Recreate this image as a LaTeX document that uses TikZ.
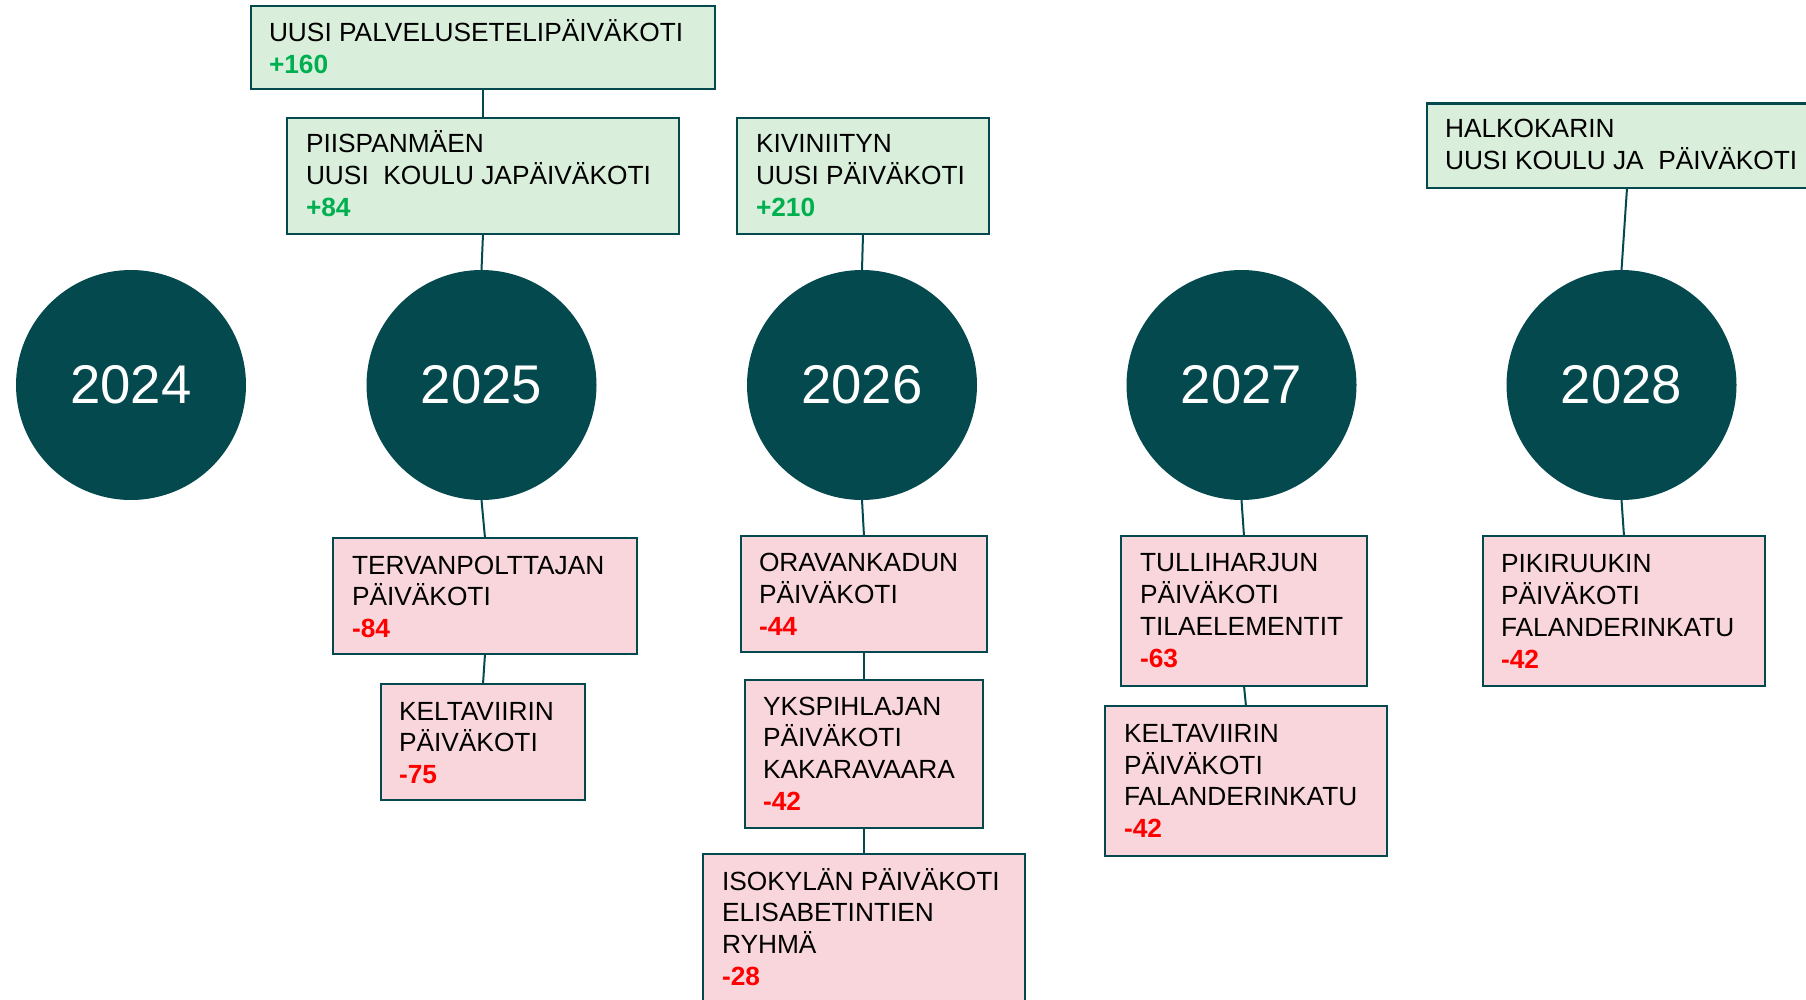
\documentclass[tikz,border=0pt]{standalone}
\usepackage{fontspec}
\setmainfont{Liberation Sans}
\definecolor{teal0}{HTML}{03494E}
\definecolor{gfill}{HTML}{D9EFDB}
\definecolor{pfill}{HTML}{F9D6DC}
\definecolor{plusg}{HTML}{00B050}
\definecolor{minr}{HTML}{FF0000}
\tikzset{
  yearc/.style={circle, fill=teal0, draw=none, minimum size=230pt, inner sep=0pt, outer sep=0pt, text=white, font=\fontsize{54.5}{60}\selectfont},
  gbox/.style={rectangle, draw=teal0, line width=2.4pt, fill=gfill, inner sep=0pt, outer sep=0pt, anchor=north west},
  pbox/.style={gbox, fill=pfill},
  lbl/.style={anchor=base west, inner sep=0pt, outer sep=0pt, align=left, font=\fontsize{26.3}{31.8}\selectfont, text=black},
  conn/.style={draw=teal0, line width=2pt},
}
\newcommand{\plusn}[1]{\textcolor{plusg}{\bfseries #1}}
\newcommand{\minn}[1]{\textcolor{minr}{\bfseries #1}}
\begin{document}
\begin{tikzpicture}[x=1pt, y=-1pt]
\useasboundingbox (0,0) rectangle (1806,1000);
\clip (0,0) rectangle (1806,1000);
\fill[white] (0,0) rectangle (1806,1000);

% year circles
\node[yearc] (c24) at (131,385) {2024};
\node[yearc] (c25) at (481.5,385) {2025};
\node[yearc] (c26) at (862,385) {2026};
\node[yearc] (c27) at (1241.5,385) {2027};
\node[yearc] (c28) at (1621.5,385) {2028};

% boxes above
\node[gbox, minimum width=464pt, minimum height=83pt] (A) at (251,6) {};
\node[gbox, minimum width=392pt, minimum height=116pt] (B) at (287,118) {};
\node[gbox, minimum width=252pt, minimum height=116pt] (C) at (737,118) {};
\node[gbox, minimum width=400pt, minimum height=84.5pt] (D) at (1427,103.5) {};

% boxes below
\node[pbox, minimum width=304pt, minimum height=116pt] (E) at (333,538) {};
\node[pbox, minimum width=204pt, minimum height=116pt] (F) at (381,684) {};
\node[pbox, minimum width=246pt, minimum height=116pt] (G) at (741,536) {};
\node[pbox, minimum width=238pt, minimum height=148pt] (H) at (745,680) {};
\node[pbox, minimum width=322pt, minimum height=170pt] (I) at (703,854) {};
\node[pbox, minimum width=246pt, minimum height=150pt] (J) at (1121,536) {};
\node[pbox, minimum width=282pt, minimum height=150pt] (K) at (1105,706) {};
\node[pbox, minimum width=282pt, minimum height=150pt] (L) at (1483,536) {};

% connectors
\draw[conn] (A.south) -- (B.north);
\draw[conn] (B.south) -- (c25.north);
\draw[conn] (C.south) -- (c26.north);
\draw[conn] (D.south -| 1627,0) -- (c28.north);
\draw[conn] (c25.south) -- (E.north);
\draw[conn] (E.south) -- (F.north);
\draw[conn] (c26.south) -- (G.north);
\draw[conn] (G.south) -- (H.north);
\draw[conn] (H.south) -- (I.north);
\draw[conn] (c27.south) -- (J.north);
\draw[conn] (J.south) -- (K.north);
\draw[conn] (c28.south) -- (L.north);

% texts
\node[lbl] (At) at (269,41.7) {\begin{tabular}[t]{@{}l@{}}UUSI PALVELUSETELIPÄIVÄKOTI\\ \plusn{+160}\end{tabular}};
\node[lbl] (Bt) at (306,153) {\begin{tabular}[t]{@{}l@{}}PIISPANMÄEN\\ UUSI~~KOULU JAPÄIVÄKOTI\\ \plusn{+84}\end{tabular}};
\node[lbl] (Ct) at (756,153) {\begin{tabular}[t]{@{}l@{}}KIVINIITYN\\ UUSI PÄIVÄKOTI\\ \plusn{+210}\end{tabular}};
\node[lbl] (Dt) at (1445,138) {\begin{tabular}[t]{@{}l@{}}HALKOKARIN\\ UUSI KOULU JA~~PÄIVÄKOTI\end{tabular}};

\node[lbl] (Et) at (352,574) {\begin{tabular}[t]{@{}l@{}}TERVANPOLTTAJAN\\ PÄIVÄKOTI\\ \minn{-84}\end{tabular}};
\node[lbl] (Ft) at (399,720) {\begin{tabular}[t]{@{}l@{}}KELTAVIIRIN\\ PÄIVÄKOTI\\ \minn{-75}\end{tabular}};
\node[lbl] (Gt) at (759,571.7) {\begin{tabular}[t]{@{}l@{}}ORAVANKADUN\\ PÄIVÄKOTI\\ \minn{-44}\end{tabular}};
\node[lbl] (Ht) at (763,715) {\begin{tabular}[t]{@{}l@{}}YKSPIHLAJAN\\ PÄIVÄKOTI\\ KAKARAVAARA\\ \minn{-42}\end{tabular}};
\node[lbl] (It) at (722,890) {\begin{tabular}[t]{@{}l@{}}ISOKYLÄN PÄIVÄKOTI\\ ELISABETINTIEN\\ RYHMÄ\\ \minn{-28}\end{tabular}};
\node[lbl] (Jt) at (1140,571.7) {\begin{tabular}[t]{@{}l@{}}TULLIHARJUN\\ PÄIVÄKOTI\\ TILAELEMENTIT\\ \minn{-63}\end{tabular}};
\node[lbl] (Kt) at (1124,742.3) {\begin{tabular}[t]{@{}l@{}}KELTAVIIRIN\\ PÄIVÄKOTI\\ FALANDERINKATU\\ \minn{-42}\end{tabular}};
\node[lbl] (Lt) at (1501,572.7) {\begin{tabular}[t]{@{}l@{}}PIKIRUUKIN\\ PÄIVÄKOTI\\ FALANDERINKATU\\ \minn{-42}\end{tabular}};
\end{tikzpicture}
\end{document}
